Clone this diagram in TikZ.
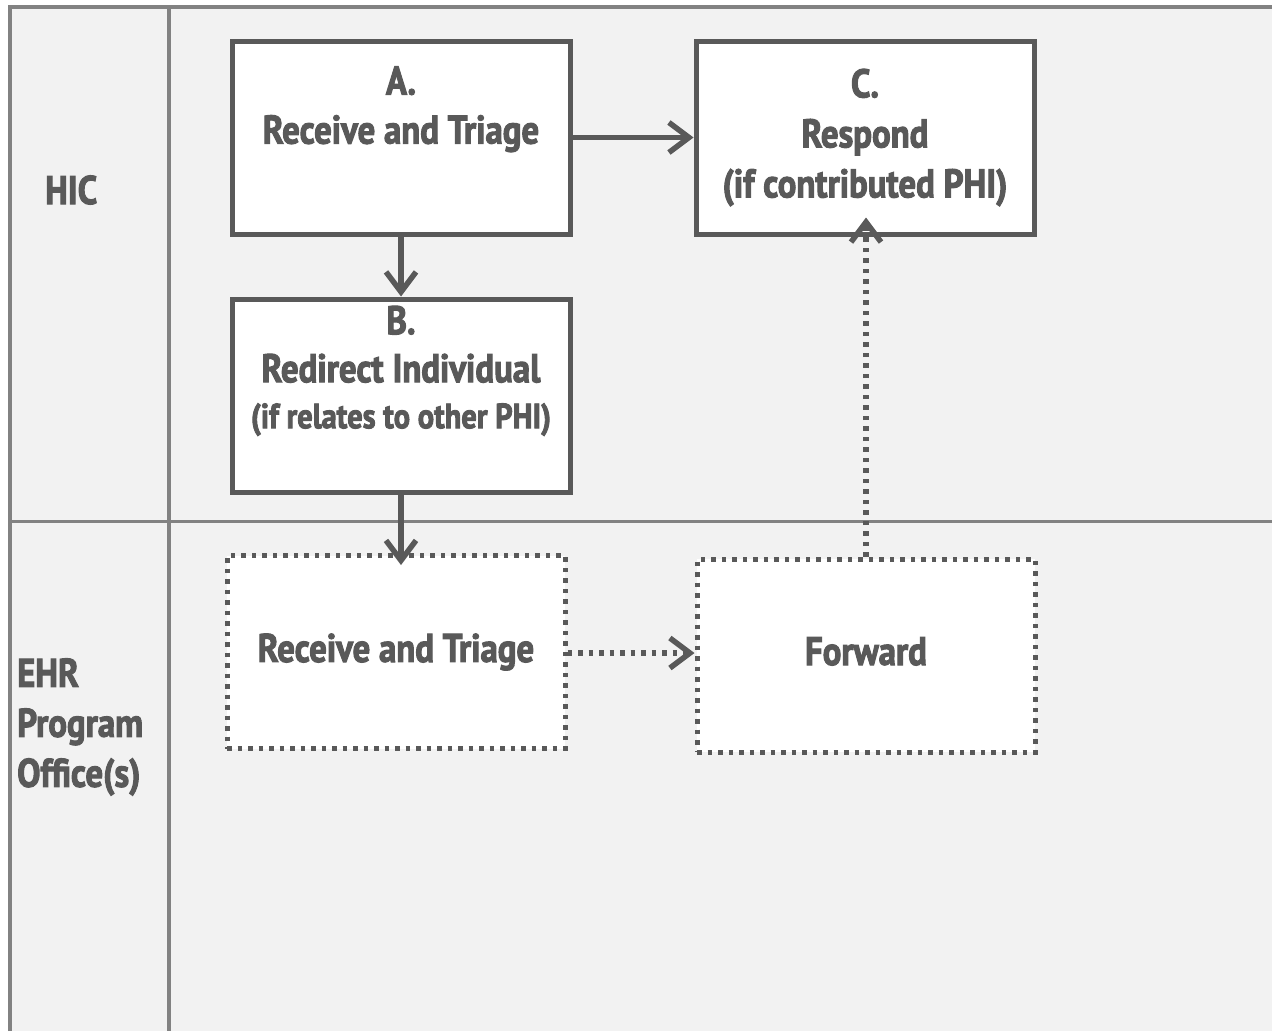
\documentclass[tikz,border=0pt]{standalone}
\usepackage{fontspec}
\newfontfamily\lbl{PT Sans}[FakeStretch=0.87, FakeBold=2.5]
\usetikzlibrary{arrows.meta}
\definecolor{frame}{HTML}{828282}
\definecolor{ink}{HTML}{595959}
\definecolor{lane}{HTML}{F2F2F2}
\tikzset{
  txt/.style={text=ink, font=\lbl\bfseries\fontsize{40}{50}\selectfont, align=center},
  solidbox/.style={txt, draw=ink, line width=5pt, fill=white, minimum width=338pt, minimum height=193pt, inner sep=0pt},
  dotbox/.style={solidbox, dash pattern=on 4.5pt off 6pt},
  conn/.style={draw=ink, line width=5.5pt, line cap=butt, -{Straight Barb[length=20pt,width=30pt,line width=5.5pt]}},
  dotconn/.style={conn, dash pattern=on 4.5pt off 6pt},
  lanelabel/.style={text=ink, font=\lbl\bfseries\fontsize{40}{50}\selectfont, inner sep=0pt}
}
\begin{document}
\begin{tikzpicture}[x=1pt,y=-1pt]
\useasboundingbox (0,0) rectangle (1272,1031);
\fill[white] (0,0) rectangle (1272,1031);
\fill[lane] (9.5,6.5) rectangle (1272,1031);
\draw[frame, line width=4pt] (9.5,1031) -- (9.5,6.5) -- (1272,6.5);
\draw[frame, line width=4pt] (168.5,6.5) -- (168.5,1031);
\draw[frame, line width=3pt] (9.5,521) -- (1272,521);

\node[lanelabel, anchor=west] (hic) at (45,190) {HIC};
\node[lanelabel, anchor=west, align=left, text width=150pt] (ehr) at (17,727) {EHR\\Program\\Office(s)};

\node[solidbox] (A) at (401,137.5) {\raisebox{-7pt}{A.}\\[6pt]Receive and Triage\\\strut};
\node[solidbox] (C) at (865,137.5) {C.\\Respond\\(if contributed PHI)};
\node[solidbox] (B) at (401,395.5) {\raisebox{-6pt}{B.}\\[4pt]Redirect Individual\\[-4pt]{\fontsize{35}{46}\selectfont (if relates to other PHI)}\\[-8pt]\strut};
\node[dotbox] (R) at (396,652) {Receive and Triage};
\node[dotbox] (F) at (866,655.5) {\raisebox{9pt}{Forward}};

\draw[conn] (A.east) -- (C.west);
\draw[conn] (A.south) -- (B.north);
\draw[conn, shorten >=-12pt] (B.south) -- (R.north -| B.south);
\draw[dotconn] (R.east |- 0,653) -- (F.west |- 0,653);
\draw[dotconn, shorten >=-19pt] (F.north) -- (C.south -| F.north);
\end{tikzpicture}
\end{document}
